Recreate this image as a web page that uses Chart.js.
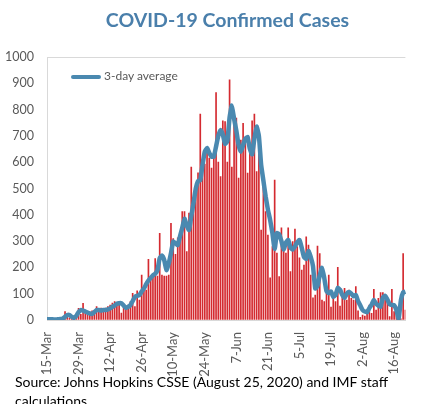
<!DOCTYPE html>
<html>
<head>
<meta charset="utf-8">
<script src="https://cdn.jsdelivr.net/npm/chart.js@4.4.0/dist/chart.umd.min.js"></script>
<style>
  html, body { margin: 0; padding: 0; background: #fff; overflow: hidden; }
  #wrap { position: relative; width: 425px; height: 404px; }
  #box { position: absolute; left: 0; top: 0; width: 425px; height: 380px; }
  #titulo { position: absolute; left: 0; top: 8px; width: 455px; text-align: center; font-family: Lato, sans-serif; font-weight: bold; font-size: 19.5px; color: #4A7FAB; }
  #leyenda { position: absolute; left: 71px; top: 68px; font-family: Lato, sans-serif; font-size: 12px; color: #595959; line-height: 16px; }
  #leyenda span.linea { display: inline-block; width: 30px; height: 4px; background: #4A89B0; border-radius: 2px; vertical-align: middle; margin-right: 3px; }
  #source { position: absolute; left: 15px; top: 372px; width: 400px; font-family: Lato, sans-serif; font-size: 14px; line-height: 19px; color: #000; }
</style>
</head>
<body>
<div id="wrap">
  <div id="box"><canvas id="grafico"></canvas></div>
  <div id="titulo">COVID-19 Confirmed Cases</div>
  <div id="leyenda"><span class="linea"></span>3-day average</div>
  <div id="source">Source: Johns Hopkins CSSE (August 25, 2020) and IMF staff calculations.</div>
</div>
<script>
// daily confirmed cases, 15-Mar to 21-Aug
const casosDiarios = [
  2, 0, 5, 1, 3, 2, 6, 4, 32, 19,
  8, 10, 6, 14, 44, 22, 63, 26, 32, 19,
  35, 26, 51, 38, 45, 32, 45, 51, 57, 64,
  70, 64, 70, 26, 61, 38, 57, 70, 101, 51,
  111, 76, 171, 114, 114, 231, 158, 167, 234, 167,
  330, 171, 167, 167, 171, 368, 310, 250, 312, 300,
  412, 412, 260, 407, 581, 440, 510, 560, 783, 583,
  593, 654, 616, 578, 616, 865, 600, 545, 757, 754,
  600, 913, 581, 792, 768, 540, 684, 748, 673, 559,
  659, 757, 783, 564, 697, 342, 545, 412, 323, 160,
  279, 532, 254, 165, 350, 266, 254, 350, 184, 298,
  346, 279, 236, 190, 209, 316, 285, 171, 84, 95,
  281, 253, 76, 70, 101, 171, 49, 89, 70, 200,
  53, 89, 120, 76, 114, 82, 76, 127, 35, 10,
  19, 15, 38, 57, 25, 117, 38, 82, 104, 104,
  76, 84, 13, 117, 32, 51, 11, 4, 253, 38
];

// 3-day average
const promedio3 = [
  3, 3, 3, 2, 2, 3, 4, 6, 12, 19,
  19, 12, 8, 16, 30, 38, 36, 32, 28, 25,
  23, 30, 38, 38, 36, 38, 38, 40, 44, 50,
  55, 62, 64, 64, 55, 46, 50, 57, 72, 88,
  92, 95, 108, 120, 136, 150, 160, 170, 176, 190,
  235, 245, 228, 190, 215, 254, 298, 292, 285, 318,
  350, 385, 360, 342, 395, 445, 500, 528, 532, 590,
  640, 654, 635, 621, 621, 660, 700, 722, 705, 670,
  680, 770, 815, 765, 720, 665, 640, 665, 690, 695,
  650, 630, 690, 735, 700, 590, 530, 470, 420, 380,
  330, 270, 330, 326, 300, 268, 295, 304, 275, 268,
  280, 295, 304, 275, 240, 232, 262, 240, 205, 120,
  130, 170, 198, 160, 110, 102, 108, 88, 95, 122,
  115, 95, 84, 100, 106, 100, 90, 95, 72, 55,
  38, 32, 30, 45, 58, 76, 62, 55, 51, 85,
  92, 78, 60, 57, 56, 38, 5, 75, 105, 108
];

const etiquetasEje = ['15-Mar', '29-Mar', '12-Apr', '26-Apr', '10-May', '24-May',
  '7-Jun', '21-Jun', '5-Jul', '19-Jul', '2-Aug', '16-Aug'];

const meses = ['Jan', 'Feb', 'Mar', 'Apr', 'May', 'Jun', 'Jul', 'Aug', 'Sep', 'Oct', 'Nov', 'Dec'];
const dias = casosDiarios.map((v, i) => {
  const d = new Date(2020, 2, 15 + i);
  return d.getDate() + '-' + meses[d.getMonth()];
});

const gris = '#595959';
const ctx = document.getElementById('grafico').getContext('2d');

new Chart(ctx, {
  type: 'bar',
  data: {
    labels: dias,
    datasets: [{
      type: 'line',
      label: '3-day average',
      data: promedio3,
      borderColor: '#4A89B0',
      backgroundColor: '#4A89B0',
      borderWidth: 4.5,
      pointRadius: 0,
      tension: 0.15,
      fill: false
    }, {
      type: 'bar',
      label: 'Daily',
      data: casosDiarios,
      backgroundColor: '#D42A30',
      barThickness: 1
    }]
  },
  options: {
    responsive: true,
    maintainAspectRatio: false,
    animation: false,
    layout: { padding: { left: 0, right: 0, top: 57, bottom: 0 } },
    plugins: {
      legend: { display: false },
      tooltip: { enabled: false }
    },
    scales: {
      x: {
        offset: false,
        grid: { display: false },
        border: { display: true, color: '#d9d9d9' },
        ticks: {
          autoSkip: false,
          maxRotation: 90,
          minRotation: 90,
          color: gris,
          font: { family: 'Lato', size: 13 },
          padding: 4,
          callback: function (value) {
            const t = this.getLabelForValue(value);
            return etiquetasEje.includes(t) ? t : '';
          }
        },
        afterFit: scale => { scale.height = 60; }
      },
      y: {
        min: 0,
        max: 1000,
        ticks: {
          stepSize: 100,
          color: gris,
          font: { family: 'Lato', size: 12.5 },
          padding: 13,
          callback: v => String(v)
        },
        grid: {
          drawTicks: false,
          color: c => c.tick && c.tick.value === 1000 ? '#d9d9d9' : 'rgba(0,0,0,0)'
        },
        border: { display: true, color: '#d9d9d9' },
        afterFit: scale => { scale.width = 47; }
      }
    }
  }
});
</script>
</body>
</html>
